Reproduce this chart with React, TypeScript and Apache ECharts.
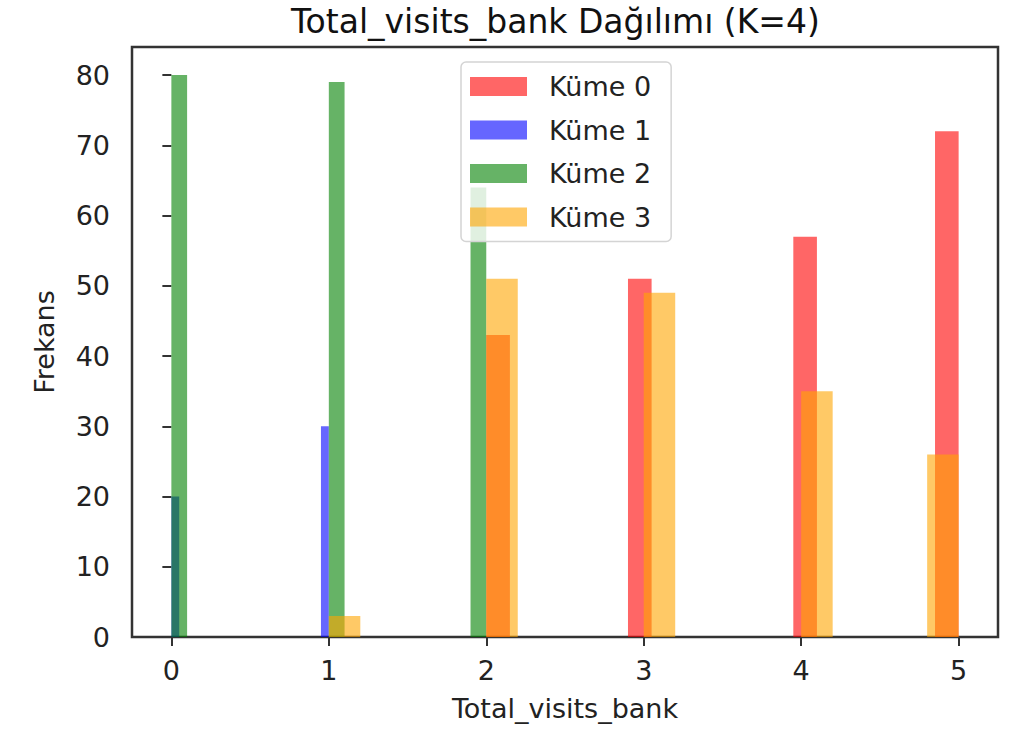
import React, { useEffect, useRef } from "react";
import * as echarts from "echarts";

const BINS = 20;
const clusterNames = ["Küme 0", "Küme 1", "Küme 2", "Küme 3"];
const clusterColors = [
  "rgba(255,0,0,0.6)",
  "rgba(0,0,255,0.6)",
  "rgba(0,128,0,0.6)",
  "rgba(255,165,0,0.6)",
];

// histogram ranges (min, max) and counts per bin (20 bins each)
const kume0Range = [2, 5];
const kume0Counts = [43, 0, 0, 0, 0, 0, 51, 0, 0, 0, 0, 0, 0, 57, 0, 0, 0, 0, 0, 72];
const kume1Range = [0, 1];
const kume1Counts = [20, 0, 0, 0, 0, 0, 0, 0, 0, 0, 0, 0, 0, 0, 0, 0, 0, 0, 0, 30];
const kume2Range = [0, 2];
const kume2Counts = [80, 0, 0, 0, 0, 0, 0, 0, 0, 0, 79, 0, 0, 0, 0, 0, 0, 0, 0, 64];
const kume3Range = [1, 5];
const kume3Counts = [3, 0, 0, 0, 0, 51, 0, 0, 0, 0, 49, 0, 0, 0, 0, 35, 0, 0, 0, 26];

const xTicks = [0, 1, 2, 3, 4, 5];
const yTicks = [0, 10, 20, 30, 40, 50, 60, 70, 80];

const FONT = "DejaVu Sans";

function histData(range: number[], counts: number[]) {
  const w = (range[1] - range[0]) / BINS;
  return counts.map((c, i) => [range[0] + i * w, range[0] + (i + 1) * w, c]);
}

export default function App() {
  const ref = useRef<HTMLDivElement>(null);
  useEffect(() => {
    if (!ref.current) return;
    const chart = echarts.init(ref.current, null, { renderer: "svg" });
    const sets = [
      histData(kume0Range, kume0Counts),
      histData(kume1Range, kume1Counts),
      histData(kume2Range, kume2Counts),
      histData(kume3Range, kume3Counts),
    ];
    const series = sets.map((data, si) => ({
      type: "custom",
      name: clusterNames[si],
      data,
      encode: { x: [0, 1], y: 2 },
      itemStyle: { color: clusterColors[si] },
      renderItem: (params: any, api: any) => {
        const x0 = api.value(0);
        const x1 = api.value(1);
        const c = api.value(2);
        if (!c) return null;
        const p0 = api.coord([x0, c]);
        const p1 = api.coord([x1, 0]);
        return {
          type: "rect",
          shape: { x: p0[0], y: p0[1], width: p1[0] - p0[0], height: p1[1] - p0[1] },
          style: { fill: clusterColors[si] },
        };
      },
    }));
    chart.setOption({
      animation: false,
      textStyle: { fontFamily: FONT },
      title: {
        text: "Total_visits_bank Dağılımı (K=4)",
        left: 286,
        top: 0,
        textStyle: { fontFamily: FONT, fontSize: 33, fontWeight: "normal", color: "#111" },
      },
      legend: {
        orient: "vertical",
        left: 461,
        top: 62,
        data: clusterNames,
        icon: "rect",
        itemWidth: 57,
        itemHeight: 19,
        itemGap: 16.5,
        padding: [11, 20, 11, 9],
        backgroundColor: "rgba(255,255,255,0.8)",
        borderColor: "#d4d4d4",
        borderWidth: 1.5,
        borderRadius: 5,
        textStyle: { fontFamily: FONT, fontSize: 27, color: "#222", padding: [0, 0, 0, 17] },
      },
      grid: {
        left: 132,
        right: 21,
        top: 47,
        bottom: 97,
        containLabel: false,
        show: true,
        borderColor: "#333",
        borderWidth: 2.5,
        backgroundColor: "transparent",
      },
      xAxis: {
        type: "value",
        min: -0.25,
        max: 5.25,
        name: "Total_visits_bank",
        nameLocation: "middle",
        nameGap: 58,
        nameTextStyle: { fontFamily: FONT, fontSize: 27, color: "#222" },
        axisLine: { show: false },
        splitLine: { show: false },
        axisTick: { show: true, length: 9, customValues: xTicks, lineStyle: { color: "#333", width: 2 } },
        axisLabel: { customValues: xTicks, margin: 20, fontFamily: FONT, fontSize: 27, color: "#222" },
      },
      yAxis: {
        type: "value",
        min: 0,
        max: 84,
        name: "Frekans",
        nameLocation: "middle",
        nameGap: 74,
        nameTextStyle: { fontFamily: FONT, fontSize: 27, color: "#222" },
        axisLine: { show: false },
        splitLine: { show: false },
        axisTick: { show: true, length: 9, customValues: yTicks, lineStyle: { color: "#333", width: 2 } },
        axisLabel: { customValues: yTicks, margin: 22, fontFamily: FONT, fontSize: 27, color: "#222" },
      },
      series,
    });
    return () => chart.dispose();
  }, []);
  return (
    <div
      ref={ref}
      style={{ position: "fixed", left: 0, top: 0, width: 1019, height: 734, background: "#fff" }}
    />
  );
}
